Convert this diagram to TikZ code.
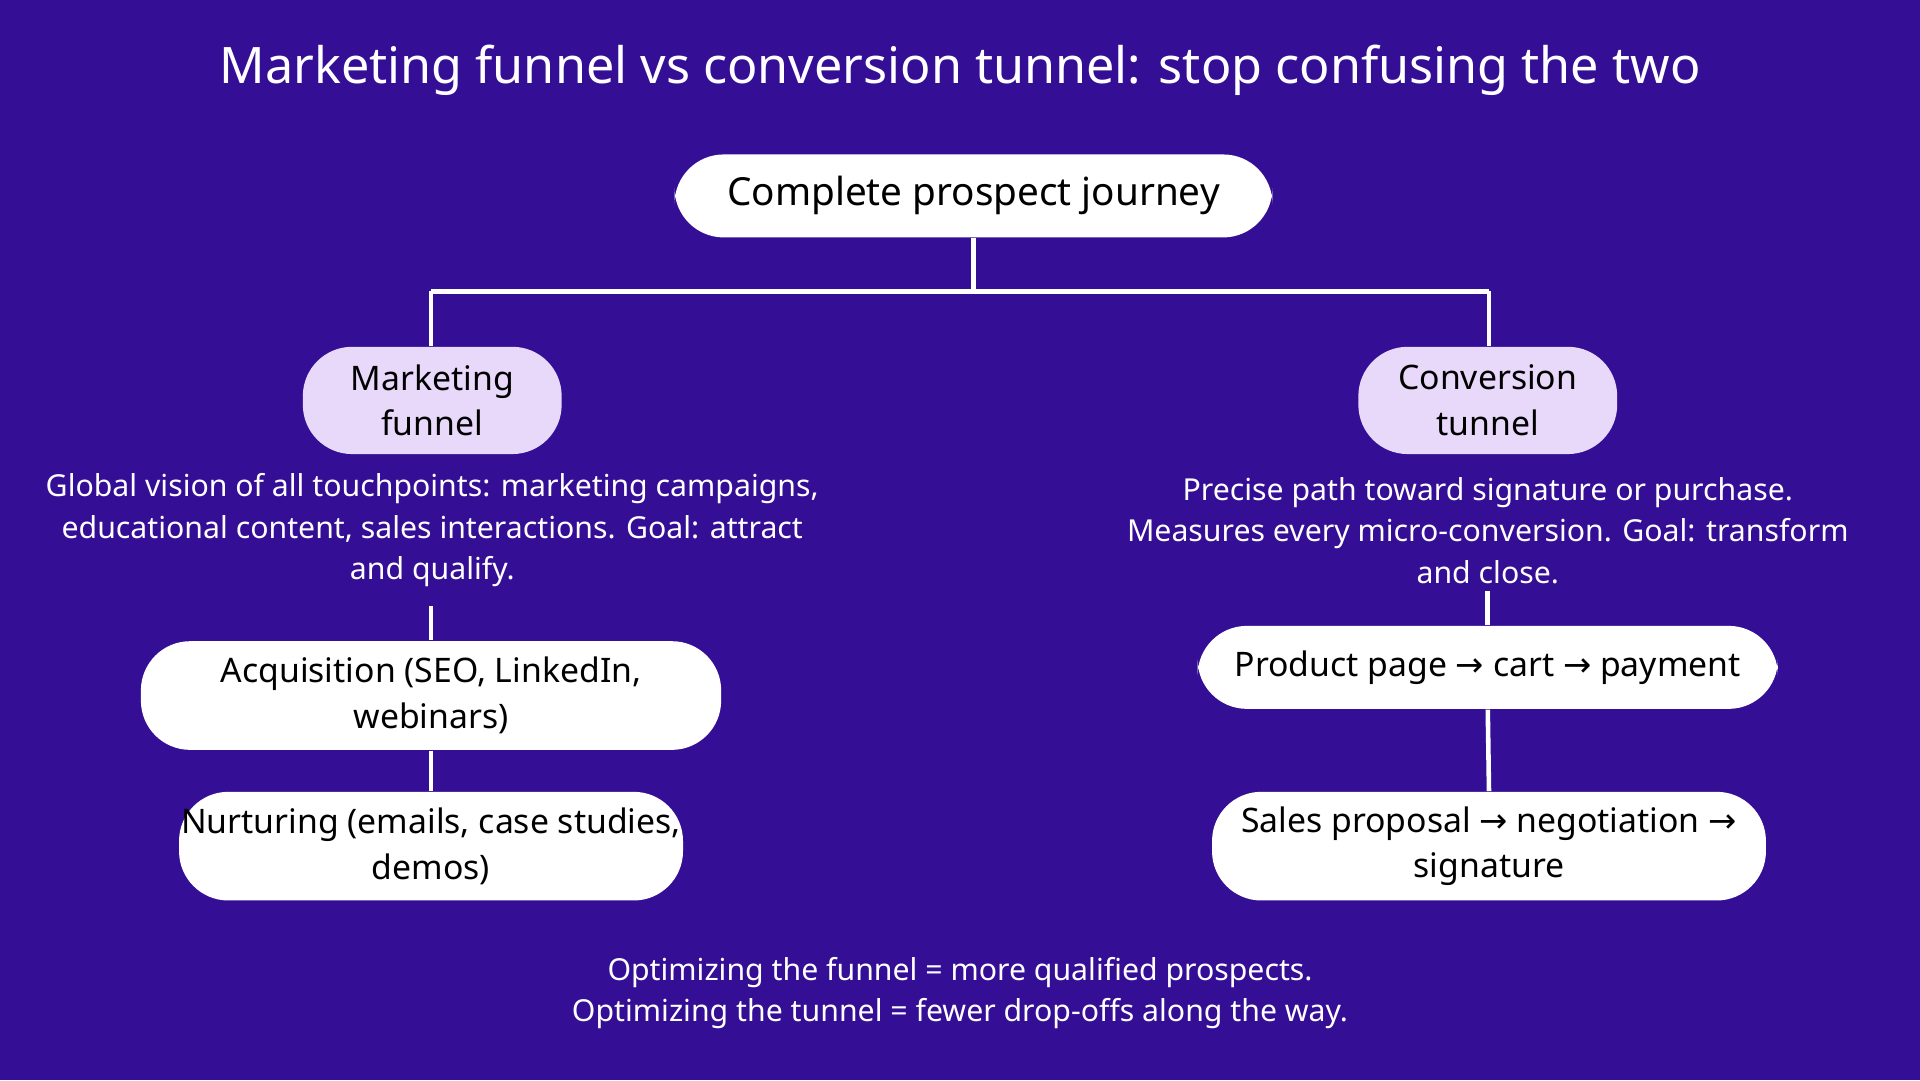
\documentclass[tikz,border=0pt]{standalone}
\usepackage{fontspec}
\setmainfont{Noto Sans}
\newfontfamily\sym{DejaVu Sans}
\definecolor{bg}{HTML}{350E96}
\definecolor{lav}{HTML}{E8D8FA}
\newcommand{\ar}{{\sym →}}
\begin{document}
\begin{tikzpicture}[x=0.012245cm,y=-0.012245cm,
  box/.style={draw=none,fill=white,rounded corners=14pt,text=black,align=center},
  sub/.style={draw=none,fill=lav,rounded corners=14pt,text=black,align=center,font=\fontsize{9.6}{13}\selectfont},
  body/.style={text=white,align=center,font=\fontsize{8.6}{11.8}\selectfont},
  ln/.style={draw=white,line width=1.3pt}]
\fill[bg] (0,0) rectangle (1568,882);
\node[text=white,font=\fontsize{14.3}{17}\selectfont] (title) at (784,57) {Marketing funnel vs conversion tunnel: stop confusing the two};
\node[box,font=\fontsize{11}{14}\selectfont,minimum width=170pt,minimum height=23.6pt] (root) at (795,160) {Complete prospect journey};
\node[sub,minimum width=73.6pt,minimum height=30.5pt] (mf) at (353,327) {Marketing\\funnel};
\node[sub,minimum width=73.6pt,minimum height=30.5pt] (ct) at (1215,327) {Conversion\\tunnel};
\coordinate (j) at (795,238);
\draw[ln] (root.south) -- (j);
\draw[ln] (352,238) -- (1216,238);
\draw[ln] (352,238) -- (mf.north -| 352,0);
\draw[ln] (1216,238) -- (ct.north -| 1216,0);
\node[body] (mt) at (353,433) {Global vision of all touchpoints: marketing campaigns,\\educational content, sales interactions. Goal: attract\\and qualify.};
\node[body] (ctt) at (1215,433) {Precise path toward signature or purchase.\\Measures every micro-conversion. Goal: transform\\and close.};
\node[box,font=\fontsize{9.6}{13}\selectfont,minimum width=165pt,minimum height=30.9pt] (acq) at (352,568) {Acquisition (SEO, LinkedIn,\\webinars)};
\node[box,font=\fontsize{9.6}{13}\selectfont,inner xsep=0pt,minimum width=143.3pt,minimum height=30.9pt] (nur) at (352,691) {Nurturing (emails, case studies,\\demos)};
\node[box,font=\fontsize{9.6}{13}\selectfont,minimum width=165pt,minimum height=23.6pt] (pp) at (1215,545) {Product page \ar{} cart \ar{} payment};
\node[box,font=\fontsize{9.6}{13}\selectfont,minimum width=157.5pt,minimum height=30.9pt] (sp) at (1216,691) {Sales proposal \ar{} negotiation \ar\\signature};
\draw[ln] (352,495) -- (acq.north);
\draw[ln] (acq.south) -- (nur.north);
\draw[ln] (1215,483) -- (pp.north);
\draw[ln] (pp.south) -- (sp.north);
\node[body] (foot) at (784,811) {Optimizing the funnel = more qualified prospects.\\Optimizing the tunnel = fewer drop-offs along the way.};
\end{tikzpicture}
\end{document}
